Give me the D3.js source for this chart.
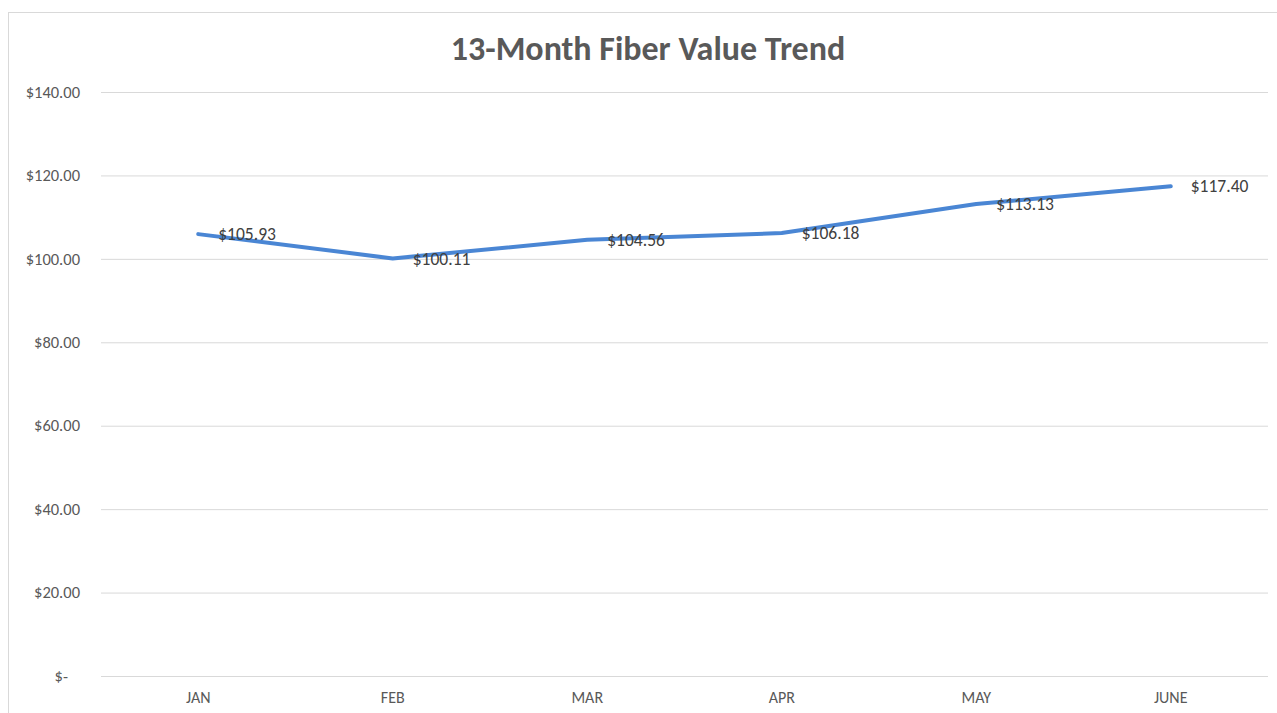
<!DOCTYPE html>
<html><head><meta charset="utf-8">
<script src="https://cdn.jsdelivr.net/npm/d3@7"></script>
<style>body{margin:0;background:#fff}svg{display:block}</style>
</head><body>
<svg id="c" width="1277" height="713"></svg>
<script>
const months = ["JAN","FEB","MAR","APR","MAY","JUNE"];
const values = [105.93,100.11,104.56,106.18,113.13,117.40];
const yTicks = [0,20,40,60,80,100,120,140];
const title = "13-Month Fiber Value Trend";

const svg = d3.select("#c");
const font = "Carlito, Calibri, Lato, 'Open Sans', sans-serif";
// chart frame
svg.append("rect").attr("x",8.5).attr("y",12.5).attr("width",1290).attr("height",720)
  .attr("fill","#fff").attr("stroke","#d9d9d9").attr("stroke-width",1);

const m = {left:101, right:1268, top:92, bottom:676};
const x = d3.scaleBand().domain(months).range([m.left, m.right]);
const y = d3.scaleLinear().domain([0,140]).range([m.bottom, m.top]);

const fmt = v => v === 0 ? "$-" : "$" + d3.format(",.2f")(v);

const yAxis = svg.append("g").attr("transform",`translate(${m.left},0)`)
  .call(d3.axisLeft(y).tickValues(yTicks).tickFormat(fmt).tickSize(-(m.right-m.left)).tickPadding(21));
yAxis.select(".domain").remove();
yAxis.selectAll("line").attr("stroke","#d9d9d9").attr("stroke-width",1);
yAxis.selectAll("text").attr("fill","#595959").style("font-family",font).style("font-size","16.5px");
yAxis.selectAll(".tick").filter(d=>d===0).select("text").attr("dx",-12);

const xAxis = svg.append("g").attr("transform",`translate(0,${m.bottom})`)
  .call(d3.axisBottom(x).tickSize(0).tickPadding(16));
xAxis.select(".domain").remove();
xAxis.selectAll("text").attr("fill","#595959").style("font-family",font).style("font-size","16px");

const cx = (d,i) => x(months[i]) + x.bandwidth()/2;
const line = d3.line().x((d,i)=>cx(d,i)).y(d=>y(d));
svg.append("path").datum(values).attr("d",line).attr("fill","none")
  .attr("stroke","#4a86d4").attr("stroke-width",4).attr("stroke-linejoin","round").attr("stroke-linecap","round");

svg.append("g").selectAll("text").data(values).join("text")
  .attr("x",(d,i)=>cx(d,i)+20).attr("y",d=>y(d)).attr("dy","0.35em")
  .attr("fill","#404040").style("font-family",font).style("font-size","17.5px")
  .text(d=>"$"+d3.format(".2f")(d));

svg.append("text").attr("x",648).attr("y",60).attr("text-anchor","middle")
  .attr("fill","#595959").style("font-family",font).style("font-size","34px").style("font-weight","bold")
  .text(title);
</script>
</body></html>
